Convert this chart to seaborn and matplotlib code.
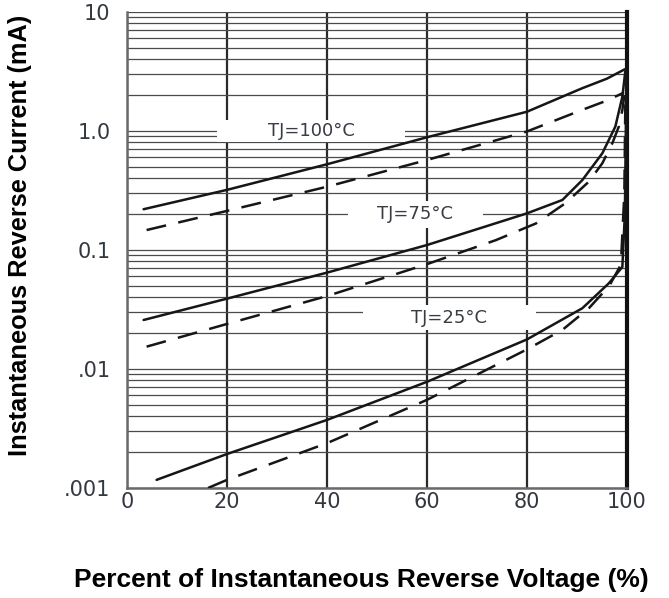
import numpy as np
import pandas as pd
import matplotlib
matplotlib.use("Agg")
import matplotlib.pyplot as plt
import seaborn as sns
from matplotlib.path import Path
from matplotlib.ticker import FixedLocator, LogLocator, NullFormatter
from matplotlib import font_manager

# ---------------- data ----------------
volt_100_solid = [3.3, 20, 40, 60, 80, 91, 96, 99.6]
cur_100_solid = [0.22, 0.32, 0.525, 0.885, 1.45, 2.28, 2.75, 3.3]

volt_100_dash = [3.9, 20, 40, 60, 80, 91, 96, 99.4]
cur_100_dash = [0.147, 0.213, 0.34, 0.57, 0.99, 1.5, 1.8, 2.1]

volt_75_solid = [3.3, 20, 40, 60, 80, 87.1, 91.1, 95.1, 97.7, 99.1, 99.7]
cur_75_solid = [0.0258, 0.039, 0.0645, 0.110, 0.203, 0.263, 0.387, 0.65, 1.09, 1.94, 3.2]

volt_75_dash = [3.9, 20, 40, 60, 73.8, 81.8, 87.7, 92.4, 95.1, 97.1, 98.4, 99.1, 99.5]
cur_75_dash = [0.0154, 0.0239, 0.041, 0.076, 0.121, 0.167, 0.247, 0.375, 0.536, 0.79, 1.09, 1.5, 2.0]

volt_25_solid = [5.9, 20, 40, 60, 80, 91.1, 96.4, 99.1, 99.6, 99.8, 99.9]
cur_25_solid = [0.00117, 0.00193, 0.00373, 0.0078, 0.0177, 0.0324, 0.0525, 0.072, 0.2, 1.0, 3.0]

volt_25_dash = [16.2, 20, 40, 60, 80, 87.1, 92.4, 96.5, 98.8, 99.5, 99.7]
cur_25_dash = [0.001, 0.00117, 0.00238, 0.0055, 0.0146, 0.0213, 0.0324, 0.05, 0.075, 0.3, 1.8]

curve_names = ["100 solid", "100 dash", "75 solid", "75 dash", "25 solid", "25 dash"]

x_ticks = [0, 20, 40, 60, 80, 100]
x_tick_labels = ["0", "20", "40", "60", "80", "100"]
y_ticks = [0.001, 0.01, 0.1, 1.0, 10]
y_tick_labels = [".001", ".01", "0.1", "1.0", "10"]

label_text = ["TJ=100°C", "TJ=75°C", "TJ=25°C"]
label_x = [36.8, 57.7, 64.5]
label_y = [1.0, 0.2, 0.027]

x_title = "Percent of Instantaneous Reverse Voltage (%)"
y_title = "Instantaneous Reverse Current (mA)"

# ---------------- build table ----------------
frames = []
for name, v, c in zip(curve_names,
                      [volt_100_solid, volt_100_dash, volt_75_solid, volt_75_dash, volt_25_solid, volt_25_dash],
                      [cur_100_solid, cur_100_dash, cur_75_solid, cur_75_dash, cur_25_solid, cur_25_dash]):
    frames.append(pd.DataFrame({"voltage": v, "current": c, "curve": name}))
df = pd.concat(frames, ignore_index=True)

# ---------------- plot ----------------
sns.set_theme(style="white")
plt.rcParams["font.family"] = ["DejaVu Sans"]

installed = {f.name for f in font_manager.fontManager.ttflist}
if "Liberation Sans Narrow" in installed:
    title_family = "Liberation Sans Narrow"
    xsize, ysize = 19, 21.5
else:
    title_family = "Liberation Sans"
    xsize, ysize = 19, 18.3

fig, ax = plt.subplots(figsize=(6.69, 5.98), dpi=100)
fig.subplots_adjust(left=0.19, right=0.937, top=0.98, bottom=0.184)

line_color = "#161616"
for name in curve_names:
    sub = df[df["curve"] == name]
    ls = "-" if "solid" in name else (0, (8, 5))
    sns.lineplot(data=sub, x="voltage", y="current", ax=ax, color=line_color,
                 linewidth=1.8, linestyle=ls, estimator=None, sort=False,
                 legend=False, zorder=3)

ax.set_yscale("log")
ax.set_xlim(0, 100)
ax.set_ylim(0.001, 10)

ax.yaxis.set_major_locator(FixedLocator(y_ticks))
ax.set_yticklabels(y_tick_labels)
ax.yaxis.set_minor_locator(LogLocator(base=10, subs=np.arange(2, 10)))
ax.yaxis.set_minor_formatter(NullFormatter())
ax.set_xticks(x_ticks)
ax.set_xticklabels(x_tick_labels)

ax.set_axisbelow(True)
ax.grid(axis="y", which="both", color="#4a4a4a", linewidth=0.9)
ax.grid(axis="x", which="major", color="#2a2a2a", linewidth=1.6)

ax.tick_params(axis="both", which="both", length=0, labelsize=15, labelcolor="#333840")
ax.tick_params(axis="y", pad=12)
ax.tick_params(axis="x", pad=3)

for side in ["left", "bottom"]:
    ax.spines[side].set_color("#6a6a6a")
    ax.spines[side].set_linewidth(1.8)
ax.spines["top"].set_visible(False)
ax.spines["right"].set_color("#111111")
ax.spines["right"].set_linewidth(3)

ax.set_xlabel(x_title, fontsize=xsize, fontweight="bold", family=title_family, color="black")
ax.set_ylabel(y_title, fontsize=ysize, fontweight="bold", family=title_family, color="black")
ax.xaxis.set_label_coords(0.468, -0.168)
ax.yaxis.set_label_coords(-0.19, 0.53)
ax.xaxis.label.set_va("top")


def wide_box(half_w_em, half_h_em):
    def box(x0, y0, width, height, mutation_size):
        cx = x0 + width / 2.0
        cy = y0 + height / 2.0
        hw = half_w_em * mutation_size
        hh = half_h_em * mutation_size
        verts = [(cx - hw, cy - hh), (cx + hw, cy - hh), (cx + hw, cy + hh),
                 (cx - hw, cy + hh), (cx - hw, cy - hh)]
        codes = [Path.MOVETO, Path.LINETO, Path.LINETO, Path.LINETO, Path.CLOSEPOLY]
        return Path(verts, codes)
    return box


box_sizes = [(5.2, 0.62), (3.75, 0.75), (4.8, 0.7)]
for t, xx, yy, (bw, bh) in zip(label_text, label_x, label_y, box_sizes):
    ax.text(xx, yy, t, ha="center", va="center", fontsize=13, color="#383c44",
            zorder=2.5,
            bbox=dict(boxstyle=wide_box(bw, bh), facecolor="white", edgecolor="none"))

fig.savefig("out.png", dpi=100, facecolor="white")
